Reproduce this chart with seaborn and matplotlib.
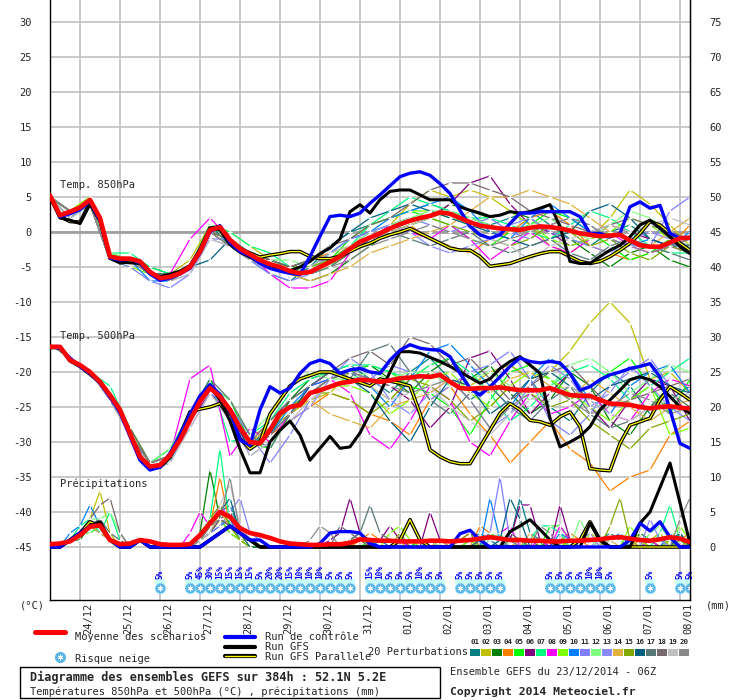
import numpy as np
import pandas as pd
import matplotlib
matplotlib.use("Agg")
import matplotlib.pyplot as plt
import matplotlib.transforms as mtransforms
from matplotlib.lines import Line2D
from matplotlib.patches import Rectangle
import seaborn as sns

# ------------------------------------------------------------------ data
hours = np.arange(0, 385, 6)      # 65 six-hourly steps (run 23/12 06Z)
hours12 = np.arange(0, 385, 12)   # perturbations read every 12 h
date_labels = ["24/12", "25/12", "26/12", "27/12", "28/12", "29/12", "30/12", "31/12",
               "01/01", "02/01", "03/01", "04/01", "05/01", "06/01", "07/01", "08/01"]
date_hours = [18, 42, 66, 90, 114, 138, 162, 186, 210, 234, 258, 282, 306, 330, 354, 378]
left_ticks = list(range(-45, 31, 5))
right_labels = [str(v) for v in range(0, 76, 5)]
PRECIP_BASE = -45

pert_colors = ["#008080", "#c0c000", "#008000", "#ff8000", "#00ff00", "#800080", "#00ff80",
               "#ff00ff", "#80ff00", "#0080ff", "#8080ff", "#80ff80", "#8a8aff", "#e0b040",
               "#80a800", "#006080", "#587878", "#786870", "#c0c0c0", "#888888"]
pert_names = ["%02d" % (i + 1) for i in range(20)]

# 850 hPa temperature (degC)
t850_mean = [5.2, 2.4, 2.9, 3.5, 4.6, 2.0, -3.5, -3.8, -3.8, -4.2,
             -5.7, -6.6, -6.4, -5.9, -5.0, -2.8, 0.3, 0.7, -1.1, -2.4,
             -3.2, -4.0, -4.6, -5.0, -5.6, -5.9, -5.7, -5.0, -4.3, -3.5,
             -2.4, -1.4, -0.8, -0.2, 0.5, 1.1, 1.6, 2.0, 2.3, 2.8,
             2.6, 2.0, 1.4, 0.9, 0.7, 0.5, 0.4, 0.3, 0.6, 0.8,
             0.7, 0.5, 0.2, -0.2, -0.4, -0.6, -0.5, -0.4, -1.2, -1.9,
             -2.1, -2.1, -1.5, -0.9, -0.8]
t850_ctrl = [5.2, 2.2, 2.6, 3.2, 4.4, 1.6, -3.7, -4.0, -3.9, -4.4,
             -6.0, -6.9, -6.6, -6.0, -5.2, -3.0, 0.0, 0.9, -1.5, -2.8,
             -3.4, -4.5, -5.2, -5.6, -5.9, -6.1, -3.5, -0.6, 2.2, 2.4,
             2.2, 2.7, 4.1, 5.3, 6.6, 7.9, 8.4, 8.6, 8.1, 6.9,
             5.5, 3.1, 0.8, -0.4, -0.9, -0.4, 1.2, 2.7, 2.7, 2.9,
             2.9, 2.9, 2.9, 2.2, -0.2, -0.2, -0.7, -0.2, 3.6, 4.3,
             3.4, 3.8, -0.2, -0.9, -0.8]
t850_gfs = [5.0, 2.0, 1.7, 1.2, 4.0, 1.5, -3.8, -4.3, -4.4, -4.5,
            -5.9, -6.4, -6.0, -5.6, -4.8, -2.6, 0.6, 0.3, -1.8, -2.9,
            -3.6, -4.4, -5.0, -5.4, -5.5, -5.0, -4.2, -3.1, -2.3, -1.0,
            2.9, 3.9, 2.7, 4.6, 5.8, 6.0, 6.0, 5.3, 4.6, 4.6,
            4.6, 3.6, 3.1, 2.7, 2.2, 2.4, 2.9, 2.7, 2.9, 3.4,
            3.9, 0.8, -4.2, -4.5, -4.5, -3.5, -2.6, -1.9, -0.7, 1.0,
            1.7, 0.5, -0.7, -2.1, -3.1]
t850_para = [5.0, 2.2, 1.5, 1.4, 4.2, 1.8, -3.6, -4.4, -4.2, -4.4,
             -5.8, -6.5, -6.3, -5.8, -4.9, -2.5, 0.5, 0.8, -1.3, -2.4,
             -3.0, -3.6, -3.3, -3.1, -2.8, -2.8, -3.5, -3.8, -3.8, -3.5,
             -2.8, -2.1, -1.6, -0.9, -0.4, 0.0, 0.5, -0.2, -0.9, -1.6,
             -2.3, -2.6, -2.6, -3.5, -4.9, -4.7, -4.5, -4.0, -3.5, -3.1,
             -2.8, -2.8, -3.5, -4.2, -4.5, -4.2, -3.5, -2.6, -1.6, -0.2,
             1.5, 1.0, -0.2, -1.6, -2.6]
t850_pert = [
    [5, 2, 4, -4, -4, -6, -7, -5, 1, -2, -4, -6, -7, -5, -2, 0, 1, 2, 3, 4, 3, 2, 1, 2, 3, 1, -1, -2, 0, 1, -1, -2, -3],
    [5, 3, 5, -3, -4, -6, -6, -4, 1, 0, -2, -4, -5, -6, -5, -3, -1, 1, 4, 6, 5, 6, 5, 3, 1, -2, -3, -1, 2, 6, 4, 1, -2],
    [5, 2, 4, -4, -4, -5, -6, -5, 0, -1, -4, -5, -6, -7, -6, -4, -2, 0, 1, 2, 4, 3, 2, 3, 2, 0, -1, -3, -5, -3, -2, -4, -5],
    [5, 3, 4, -4, -4, -6, -7, -5, 0, -2, -3, -4, -5, -4, -3, -2, -1, 0, 1, -1, -2, -3, -1, 0, 2, 3, 1, -2, -3, -4, -3, -2, 1],
    [5, 3, 4, -3, -4, -6, -6, -5, 1, -1, -3, -5, -6, -5, -4, -1, 1, 2, 3, 2, 1, -1, -2, 0, 1, 3, 2, 0, -2, -4, -3, -1, -2],
    [5, 3, 4, -4, -4, -6, -7, -5, 0, -1, -3, -5, -6, -5, -3, -1, 0, 1, 2, 2, 4, 7, 8, 4, 1, 0, -2, -1, 1, 0, -1, -2, -1],
    [5, 2, 4, -3, -3, -5, -6, -5, 1, 0, -2, -3, -5, -6, -5, -2, 1, 3, 5, 4, 3, 2, 2, 1, 0, -1, 1, 3, 2, 0, -2, -3, -3],
    [5, 3, 4, -4, -4, -6, -6, -1, 2, -1, -3, -6, -8, -8, -7, -3, -1, 1, 0, -1, 1, -1, -4, -2, 0, -2, -3, -1, 0, -2, -3, -2, -3],
    [5, 3, 5, -4, -5, -6, -7, -5, 0, -1, -3, -4, -5, -5, -3, -1, 1, 2, 3, 3, 2, 1, 2, 3, 1, -1, -2, -1, 0, 2, 1, -1, -2],
    [5, 3, 4, -4, -4, -7, -7, -5, 0, -1, -3, -5, -6, -5, -3, -1, 0, 2, 3, 4, 5, 3, 0, -1, 2, 4, 2, 0, -1, -2, -1, -2, 0],
    [5, 3, 4, -4, -5, -7, -8, -6, -1, -1, -4, -6, -7, -6, -4, -2, 0, 1, 2, 1, 0, 1, 2, 0, -1, 1, 2, 1, -1, -2, -2, 3, 5],
    [5, 3, 4, -3, -4, -6, -6, -5, 0, -1, -3, -4, -4, -5, -4, -2, 0, 1, 2, 3, 3, 2, 1, 0, 1, 2, 0, -1, 1, 3, 2, 0, -3],
    [5, 2, 4, -4, -4, -6, -7, -6, -1, -2, -4, -5, -6, -6, -3, -1, 0, 1, 0, -2, -3, -2, -1, 1, 2, 0, -1, -2, -3, -1, 0, -1, -2],
    [5, 3, 4, -4, -4, -6, -6, -5, 0, -1, -3, -5, -6, -7, -6, -5, -3, -2, -1, 0, 1, 3, 5, 5, 6, 5, 4, 2, 0, -1, -2, 0, 2],
    [5, 3, 4, -4, -4, -6, -7, -5, 0, -1, -3, -4, -5, -5, -4, -2, -1, 0, 1, 2, 1, 0, -1, -2, -1, 1, 0, -2, -1, -3, -4, -2, -3],
    [5, 3, 4, -4, -4, -6, -6, -5, -4, -1, -3, -4, -5, -4, -2, 0, 2, 3, 4, 3, 2, 1, 0, -1, -2, -1, 0, 3, 4, 2, -1, -2, -2],
    [5, 2, 4, -4, -4, -6, -6, -5, 0, -2, -4, -5, -6, -6, -5, -3, -1, 0, -1, -2, -1, 0, -2, -3, -2, -1, -3, -4, -2, -1, -2, -3, -4],
    [5, 3, 4, -4, -4, -6, -7, -5, 0, -1, -3, -4, -5, -4, -2, -1, 1, 2, 4, 6, 7, 7, 6, 5, 3, 2, 1, 0, 1, 2, 1, 0, -1],
    [5, 2, 4, -4, -4, -6, -7, -6, -1, -2, -4, -5, -6, -5, -3, -2, -1, 0, 1, 2, 3, 1, -1, -2, -4, -2, -1, 0, 1, 0, 1, 2, 1],
    [5, 3, 4, -4, -4, -6, -7, -5, 0, -2, -3, -5, -6, -6, -5, -4, -2, -1, 0, 1, 0, -1, -2, -1, 0, 1, 2, 1, -1, -2, -3, -2, -1],
]

# 500 hPa temperature (degC)
t500_mean = [-16.4, -16.4, -18.3, -19.0, -20.0, -21.4, -23.3, -25.4, -28.8, -32.1,
             -33.5, -33.3, -31.9, -29.7, -26.9, -24.2, -22.3, -23.5, -25.4, -28.0,
             -30.0, -30.2, -28.3, -25.9, -25.0, -24.7, -23.0, -22.6, -22.1, -21.6,
             -21.4, -21.1, -21.2, -21.4, -21.2, -20.9, -20.8, -20.6, -20.7, -20.4,
             -21.4, -22.3, -22.4, -22.3, -22.3, -22.2, -22.4, -22.6, -22.6, -22.6,
             -22.3, -22.8, -23.3, -23.4, -23.4, -24.0, -24.5, -24.6, -24.7, -25.0,
             -25.2, -25.0, -24.9, -25.1, -25.2]
t500_ctrl = [-16.4, -16.6, -18.0, -19.2, -20.2, -21.6, -23.6, -25.8, -29.2, -32.6,
             -34.0, -33.6, -31.6, -29.0, -26.0, -23.4, -21.8, -23.2, -25.6, -29.7,
             -30.5, -25.4, -22.1, -23.0, -22.3, -20.2, -18.8, -18.3, -18.8, -20.2,
             -19.7, -19.5, -20.0, -20.2, -18.3, -16.9, -16.1, -16.6, -16.8, -16.9,
             -17.8, -20.2, -22.3, -23.3, -22.1, -20.7, -19.2, -18.0, -18.5, -18.7,
             -18.5, -18.7, -20.2, -22.6, -22.1, -21.1, -20.4, -20.0, -19.5, -19.2,
             -18.8, -20.7, -25.4, -30.2, -30.9]
t500_gfs = [-16.3, -16.5, -18.2, -19.1, -20.1, -21.5, -23.4, -25.6, -29.0, -32.4,
            -33.8, -33.5, -31.8, -29.5, -26.7, -24.0, -22.0, -24.0, -27.0, -31.0,
            -34.4, -34.4, -30.0, -28.3, -27.0, -29.0, -32.6, -30.9, -29.2, -30.9,
            -30.7, -28.7, -25.9, -23.0, -20.0, -17.1, -17.1, -17.3, -17.9, -18.5,
            -19.2, -20.0, -20.8, -21.6, -21.0, -19.5, -18.5, -17.8, -19.0, -20.2,
            -26.6, -30.7, -30.0, -29.2, -27.8, -25.4, -24.0, -22.6, -21.1, -20.7,
            -21.1, -22.1, -23.5, -25.0, -25.9]
t500_para = [-16.5, -16.5, -18.4, -19.2, -20.3, -21.5, -23.5, -25.5, -28.9, -32.3,
             -33.7, -33.6, -32.2, -29.0, -25.7, -25.3, -25.0, -24.5, -26.5, -29.5,
             -31.0, -30.0, -26.0, -24.0, -22.0, -21.0, -20.5, -20.0, -20.0, -20.5,
             -21.0, -21.5, -22.0, -21.0, -21.3, -21.6, -22.0, -25.9, -31.1, -32.1,
             -32.8, -33.1, -33.1, -30.7, -28.3, -25.9, -24.5, -25.4, -26.9, -27.1,
             -27.6, -26.4, -25.7, -27.8, -33.8, -34.0, -34.1, -30.2, -27.6, -27.1,
             -26.6, -24.0, -22.1, -23.0, -24.0]
t500_pert = [
    [-16, -18, -20, -23, -28, -33, -32, -26, -22, -26, -31, -27, -24, -22, -20, -19, -21, -23, -20, -18, -21, -24, -22, -19, -21, -25, -27, -23, -20, -22, -26, -24, -22],
    [-16, -18, -20, -24, -29, -34, -32, -27, -22, -24, -29, -28, -26, -24, -23, -20, -22, -24, -21, -19, -18, -22, -20, -19, -21, -20, -17, -13, -10, -13, -21, -20, -23],
    [-16, -18, -20, -23, -28, -33, -31, -26, -21, -26, -31, -29, -24, -21, -20, -20, -19, -21, -23, -20, -18, -21, -19, -23, -26, -24, -20, -22, -27, -29, -25, -22, -24],
    [-16, -18, -20, -23, -29, -33, -32, -27, -22, -26, -30, -29, -27, -25, -23, -24, -26, -27, -29, -24, -22, -26, -29, -33, -30, -27, -31, -33, -37, -35, -34, -29, -27],
    [-16, -18, -20, -23, -28, -33, -32, -27, -22, -24, -30, -31, -26, -23, -21, -20, -19, -20, -22, -23, -25, -29, -24, -20, -19, -21, -24, -22, -20, -18, -22, -26, -21],
    [-16, -18, -20, -23, -29, -33, -32, -27, -23, -26, -31, -29, -26, -23, -21, -20, -21, -22, -24, -28, -25, -18, -17, -21, -26, -23, -20, -25, -28, -24, -21, -22, -27],
    [-16, -18, -20, -22, -28, -33, -31, -26, -21, -30, -29, -27, -23, -21, -20, -19, -19, -20, -21, -19, -18, -20, -23, -27, -25, -22, -20, -19, -21, -24, -22, -20, -18],
    [-16, -18, -20, -23, -29, -34, -32, -21, -19, -32, -28, -30, -26, -22, -21, -23, -29, -31, -27, -22, -24, -30, -32, -27, -23, -26, -25, -23, -26, -27, -23, -21, -22],
    [-16, -18, -20, -23, -28, -33, -32, -27, -22, -25, -30, -28, -25, -23, -22, -22, -23, -26, -24, -21, -20, -23, -25, -22, -20, -21, -23, -25, -27, -24, -22, -29, -28],
    [-16, -18, -20, -23, -29, -34, -33, -27, -22, -25, -30, -29, -25, -22, -21, -20, -22, -25, -21, -17, -16, -19, -22, -25, -21, -18, -20, -24, -26, -22, -20, -19, -23],
    [-16, -18, -20, -24, -29, -33, -32, -28, -23, -25, -29, -33, -29, -24, -22, -21, -21, -19, -20, -24, -22, -20, -19, -17, -21, -27, -29, -26, -22, -20, -18, -22, -24],
    [-16, -18, -20, -23, -28, -33, -31, -26, -22, -24, -29, -26, -22, -20, -21, -21, -20, -21, -20, -20, -22, -21, -20, -22, -24, -22, -19, -18, -20, -23, -21, -19, -20],
    [-16, -18, -20, -23, -29, -34, -32, -27, -22, -26, -32, -30, -27, -25, -21, -18, -20, -24, -26, -23, -21, -24, -28, -26, -22, -19, -21, -25, -23, -19, -22, -25, -27],
    [-16, -18, -20, -23, -29, -33, -32, -27, -22, -25, -30, -28, -25, -24, -26, -27, -28, -25, -24, -23, -21, -22, -23, -21, -20, -22, -24, -21, -23, -25, -27, -25, -24],
    [-16, -18, -20, -23, -28, -33, -32, -27, -22, -25, -31, -28, -25, -23, -23, -24, -26, -24, -21, -22, -24, -27, -25, -22, -23, -25, -24, -27, -29, -31, -28, -27, -26],
    [-16, -18, -20, -23, -29, -33, -32, -27, -22, -26, -31, -29, -26, -22, -20, -21, -23, -27, -30, -25, -21, -22, -26, -24, -21, -20, -22, -24, -22, -21, -20, -22, -23],
    [-16, -18, -20, -23, -29, -34, -32, -26, -21, -24, -29, -31, -26, -23, -22, -21, -17, -16, -20, -24, -26, -23, -22, -25, -27, -24, -22, -26, -28, -27, -25, -23, -25],
    [-16, -18, -20, -23, -28, -33, -32, -27, -22, -25, -30, -27, -24, -22, -20, -18, -17, -19, -15, -16, -19, -18, -21, -24, -22, -20, -19, -22, -25, -24, -23, -22, -21],
    [-16, -18, -20, -24, -29, -34, -33, -28, -23, -27, -32, -30, -27, -24, -22, -21, -22, -24, -23, -22, -25, -27, -29, -26, -24, -23, -22, -24, -26, -27, -25, -24, -23],
    [-16, -18, -20, -23, -29, -33, -32, -27, -22, -25, -31, -29, -26, -23, -21, -20, -21, -22, -23, -22, -21, -24, -28, -25, -23, -22, -24, -26, -25, -23, -24, -26, -25],
]

# precipitation (mm per 6 h)
pr_mean = [0.4, 0.5, 0.8, 1.7, 2.9, 3.1, 1.0, 0.4, 0.5, 1.0,
           0.8, 0.4, 0.3, 0.3, 0.4, 1.7, 3.4, 5.0, 4.3, 2.7,
           2.0, 1.7, 1.3, 0.8, 0.5, 0.4, 0.3, 0.3, 0.4, 0.4,
           0.6, 1.1, 1.0, 0.9, 0.9, 0.8, 0.8, 0.8, 0.9, 0.9,
           0.8, 0.9, 1.0, 1.2, 1.4, 1.2, 1.0, 1.0, 0.9, 0.9,
           0.8, 0.8, 0.9, 0.9, 1.0, 1.1, 1.3, 1.4, 1.2, 1.0,
           0.9, 1.1, 1.4, 1.2, 0.7]
pr_ctrl = [0, 0, 1, 2, 3, 3, 1, 0, 0, 1,
           0, 0, 0, 0, 0, 0, 1, 2, 3, 2,
           1, 1, 0, 0, 0, 0, 0, 0.5, 2, 2.2,
           2.2, 2, 0.5, 0, 0, 0, 0, 0, 0, 0,
           0, 1.9, 2.4, 1, 0, 0, 0, 0, 0, 0,
           0, 0, 0, 0, 0, 0, 0, 0, 1, 3.4,
           2.3, 3.6, 1.4, 0, 0]
pr_gfs = [0, 0, 1, 2, 3, 3.6, 1, 0, 0, 1,
          0, 0, 0, 0, 0, 0, 1, 2, 3, 2,
          1, 0, 0, 0, 0, 0, 0, 0, 0, 0,
          0, 0, 0, 0, 0, 0, 0, 0, 0, 0,
          0, 0, 0, 0, 0, 0, 2.2, 3, 3.9, 2.5,
          1, 0, 0, 0, 3.4, 1, 0, 0, 0, 3.4,
          5, 8.5, 12, 6.3, 0.5]
pr_para = [0, 0, 1, 2, 3.6, 3, 1, 0, 0, 1,
           0, 0, 0, 0, 0, 0, 1, 2, 3, 2,
           1, 0, 0, 0, 0, 0, 0, 0, 0, 0,
           0, 0, 0, 0, 0, 1, 3.9, 1, 0, 0,
           0, 0, 0, 0, 0, 0, 0, 0, 0, 0,
           0, 0, 0, 1, 3.6, 1, 0, 0, 0, 0,
           0, 0, 0, 0, 0]
pr_pert = [
    [0, 0, 1, 2, 3, 4, 1, 0, 0, 1, 1, 0, 0, 0, 0, 1, 3, 5, 6, 2, 1, 1, 0, 0, 0, 0, 0, 0, 0, 0, 1, 2, 1, 0, 0, 1, 0, 0, 1, 0, 0, 0, 1, 2, 1, 0, 1, 7, 2, 1, 0, 0, 1, 0, 0, 1, 2, 1, 0, 0, 1, 0, 1, 2, 0],
    [0, 0, 1, 2, 4, 8, 2, 0, 0, 1, 0, 0, 0, 0, 0, 1, 2, 4, 3, 1, 1, 0, 0, 0, 0, 0, 0, 0, 0, 0, 0, 1, 0, 0, 0, 0, 1, 0, 0, 0, 0, 1, 2, 1, 0, 0, 0, 1, 0, 0, 0, 1, 0, 0, 2, 1, 0, 0, 0, 0, 1, 2, 0, 0, 0],
    [0, 0, 1, 1, 3, 2, 1, 0, 0, 1, 1, 0, 0, 0, 0, 2, 11, 4, 2, 1, 1, 0, 0, 0, 0, 0, 0, 0, 0, 0, 0, 0, 0, 0, 0, 0, 0, 1, 0, 0, 0, 0, 0, 1, 0, 0, 0, 0, 1, 0, 1, 0, 0, 0, 0, 0, 0, 0, 0, 2, 1, 0, 0, 0, 0],
    [0, 0, 1, 2, 3, 3, 1, 0, 0, 1, 0, 0, 0, 0, 0, 1, 3, 10, 3, 1, 0, 0, 0, 0, 0, 0, 0, 0, 0, 0, 0, 1, 2, 1, 0, 0, 0, 0, 0, 0, 0, 0, 0, 3, 2, 1, 0, 0, 0, 0, 0, 1, 2, 1, 0, 0, 0, 0, 0, 1, 0, 0, 0, 1, 2],
    [0, 0, 1, 2, 2, 3, 1, 0, 0, 1, 0, 0, 0, 0, 0, 1, 2, 6, 3, 1, 0, 0, 0, 0, 0, 0, 0, 0, 0, 0, 0, 0, 1, 0, 0, 0, 0, 1, 0, 0, 0, 0, 0, 0, 2, 1, 0, 0, 0, 0, 3, 3, 1, 0, 0, 0, 0, 0, 0, 0, 1, 0, 0, 1, 0],
    [0, 0, 1, 2, 3, 4, 1, 0, 0, 1, 1, 0, 0, 0, 0, 1, 2, 4, 5, 2, 1, 0, 0, 0, 0, 0, 0, 0, 1, 2, 7, 2, 0, 1, 3, 1, 0, 0, 5, 1, 0, 0, 0, 1, 0, 0, 1, 6, 6, 1, 0, 6, 1, 0, 0, 0, 0, 0, 0, 0, 0, 0, 1, 0, 0],
    [0, 0, 1, 3, 4, 2, 5, 1, 0, 1, 0, 0, 0, 0, 0, 1, 4, 14, 3, 1, 1, 0, 0, 0, 0, 0, 0, 0, 0, 0, 0, 0, 0, 0, 0, 0, 0, 0, 0, 0, 0, 0, 1, 0, 0, 0, 1, 0, 1, 3, 3, 2, 0, 0, 0, 0, 0, 0, 0, 0, 0, 2, 6, 1, 0],
    [0, 0, 1, 2, 3, 3, 1, 0, 0, 1, 0, 0, 0, 0, 2, 5, 3, 6, 4, 2, 1, 0, 0, 0, 0, 0, 0, 0, 0, 0, 0, 0, 0, 0, 0, 1, 0, 0, 0, 0, 0, 1, 2, 0, 1, 2, 3, 0, 0, 1, 0, 3, 1, 0, 0, 0, 0, 0, 0, 0, 1, 0, 0, 0, 0],
    [0, 0, 1, 2, 3, 3, 1, 0, 0, 1, 1, 0, 0, 0, 0, 1, 3, 4, 2, 1, 0, 0, 0, 0, 0, 0, 0, 0, 0, 0, 0, 0, 0, 0, 2, 3, 1, 0, 0, 0, 0, 0, 1, 0, 0, 0, 0, 0, 0, 0, 0, 0, 1, 0, 0, 0, 0, 0, 3, 1, 0, 0, 1, 3, 1],
    [0, 0, 2, 3, 6, 3, 1, 0, 0, 1, 0, 0, 0, 0, 0, 1, 2, 3, 4, 1, 1, 0, 0, 0, 0, 0, 0, 0, 0, 0, 0, 0, 0, 1, 0, 0, 0, 0, 0, 0, 0, 0, 0, 0, 7, 1, 0, 0, 0, 0, 0, 2, 1, 0, 0, 0, 1, 2, 0, 0, 0, 0, 2, 0, 1],
    [0, 0, 1, 2, 3, 2, 1, 0, 0, 1, 0, 0, 0, 0, 0, 1, 2, 3, 5, 7, 2, 1, 0, 0, 0, 0, 0, 0, 0, 0, 0, 0, 0, 0, 0, 0, 0, 0, 0, 0, 0, 0, 0, 1, 2, 10, 1, 0, 0, 0, 0, 0, 0, 0, 0, 1, 0, 0, 0, 0, 0, 0, 0, 0, 1],
    [0, 0, 1, 2, 4, 4, 5, 2, 0, 1, 1, 0, 0, 0, 0, 2, 4, 5, 3, 1, 1, 0, 0, 0, 0, 0, 0, 0, 0, 0, 0, 0, 0, 0, 0, 0, 0, 0, 1, 0, 0, 0, 0, 0, 1, 2, 0, 0, 0, 0, 0, 0, 0, 4, 1, 0, 0, 0, 0, 0, 2, 3, 1, 0, 0],
    [0, 0, 1, 2, 3, 3, 1, 0, 0, 1, 0, 0, 0, 0, 0, 1, 3, 5, 4, 3, 1, 0, 0, 0, 0, 0, 0, 0, 0, 0, 0, 0, 0, 0, 0, 0, 0, 0, 0, 0, 0, 0, 0, 0, 0, 1, 0, 0, 0, 0, 0, 0, 0, 1, 2, 0, 0, 0, 0, 0, 4, 1, 0, 0, 0],
    [0, 0, 1, 2, 3, 2, 1, 0, 0, 1, 0, 0, 0, 0, 0, 1, 2, 5, 3, 1, 1, 0, 0, 0, 0, 0, 0, 0, 0, 0, 0, 0, 0, 0, 0, 0, 0, 0, 0, 1, 0, 0, 0, 0, 0, 0, 0, 0, 2, 0, 0, 0, 0, 0, 0, 0, 1, 0, 0, 0, 0, 0, 0, 0, 1],
    [0, 0, 1, 2, 3, 3, 1, 0, 0, 1, 0, 0, 0, 0, 0, 1, 4, 6, 3, 1, 0, 0, 0, 0, 0, 0, 0, 0, 0, 0, 0, 0, 0, 0, 0, 2, 0, 0, 0, 0, 0, 1, 2, 0, 0, 0, 0, 0, 0, 0, 0, 0, 0, 0, 0, 0, 3, 7, 1, 0, 0, 0, 0, 1, 0],
    [0, 0, 1, 2, 3, 3, 1, 0, 0, 1, 0, 0, 0, 0, 0, 1, 3, 5, 7, 2, 0, 0, 0, 0, 0, 0, 0, 0, 0, 0, 0, 0, 0, 0, 0, 0, 0, 0, 0, 0, 0, 0, 0, 1, 0, 1, 7, 4, 0, 0, 0, 0, 0, 0, 0, 0, 0, 0, 0, 0, 0, 0, 0, 2, 0],
    [0, 0, 1, 2, 3, 4, 2, 1, 0, 1, 0, 0, 0, 0, 0, 1, 3, 4, 3, 2, 1, 0, 0, 0, 0, 0, 0, 0, 0, 0, 1, 2, 6, 2, 1, 0, 0, 0, 0, 0, 0, 0, 0, 1, 0, 0, 2, 1, 0, 0, 0, 0, 0, 0, 0, 0, 0, 0, 0, 0, 0, 0, 0, 0, 0],
    [0, 0, 1, 2, 4, 6, 7, 2, 0, 1, 0, 0, 0, 0, 0, 1, 2, 4, 3, 2, 1, 0, 0, 0, 0, 0, 0, 0, 0, 3, 2, 1, 0, 0, 0, 0, 0, 0, 0, 0, 0, 0, 0, 0, 0, 0, 0, 0, 0, 0, 0, 0, 0, 0, 0, 0, 0, 0, 0, 0, 0, 0, 0, 0, 0],
    [0, 0, 1, 2, 3, 3, 1, 0, 0, 1, 0, 0, 0, 0, 0, 1, 2, 6, 9, 3, 1, 0, 0, 0, 0, 0, 0, 0, 0, 0, 0, 0, 0, 0, 0, 0, 0, 0, 0, 0, 0, 0, 0, 0, 0, 0, 0, 0, 0, 0, 0, 0, 0, 0, 0, 1, 0, 0, 0, 0, 0, 0, 0, 0, 0],
    [0, 0, 1, 2, 3, 3, 1, 0, 0, 1, 0, 0, 0, 0, 0, 1, 3, 4, 10, 2, 1, 0, 0, 0, 0, 0, 1, 3, 2, 0, 0, 0, 0, 0, 0, 0, 0, 0, 0, 0, 0, 0, 0, 0, 0, 0, 1, 0, 0, 3, 2, 0, 0, 0, 0, 0, 0, 0, 0, 0, 0, 0, 0, 4, 7],
]

# snow risk (%)
snow_hours = [66, 84, 90, 96, 102, 108, 114, 120, 126, 132, 138, 144, 150, 156, 162, 168, 174, 180,
              192, 198, 204, 210, 216, 222, 228, 234,
              246, 252, 258, 264, 270,
              300, 306, 312, 318, 324, 330, 336,
              360, 378, 384]
snow_pct = [5, 5, 45, 30, 15, 15, 15, 15, 5, 20, 20, 15, 10, 10, 10, 5, 5, 5,
            15, 10, 5, 5, 5, 10, 5, 5,
            5, 5, 5, 5, 5,
            5, 5, 5, 5, 10, 10, 5,
            5, 5, 5]

# ------------------------------------------------------------------ style
sns.set_style("white")
plt.rcParams["font.family"] = ["DejaVu Sans Mono", "DejaVu Sans"]
W, H = 740, 700
fig = plt.figure(figsize=(W / 100, H / 100), dpi=100)
ax = fig.add_axes([50 / W, 100 / H, 640 / W, 600 / H])
ax.set_xlim(0, 384)
ax.set_ylim(-52.57, 33.14)


def fx(px):
    return px / W


def fy(py):
    return 1 - py / H


# grid
GRID = "#c0c0c0"
ax.set_yticks(left_ticks)
ax.set_yticklabels([str(v) for v in left_ticks], fontsize=7.5)
ax.set_xticks(date_hours)
ax.set_xticklabels([])
ax.tick_params(axis="both", length=0)
ax.tick_params(axis="y", pad=13)
ax.grid(True, color=GRID, lw=1.2, zorder=0)
ax.set_axisbelow(True)
ax.axhline(0, color="#a0a0a0", lw=2.0, zorder=1)
for s in ["left", "bottom", "right"]:
    ax.spines[s].set_color("black")
    ax.spines[s].set_linewidth(1.0)
ax.spines["top"].set_visible(False)

ax2 = ax.twinx()
ax2.set_ylim(ax.get_ylim())
ax2.set_yticks(left_ticks)
ax2.set_yticklabels(right_labels, fontsize=7.5)
ax2.tick_params(axis="y", length=0, pad=14)
for s in ax2.spines.values():
    s.set_visible(False)
ax2.spines["right"].set_visible(True)
ax2.spines["right"].set_color("black")
ax2.grid(False)


# perturbations
def long_df(rows, hrs, offset=0.0):
    recs = []
    for name, row in zip(pert_names, rows):
        for h, v in zip(hrs, row):
            recs.append((name, h, v + offset))
    return pd.DataFrame(recs, columns=["member", "hour", "value"])


palette = dict(zip(pert_names, pert_colors))
for rows, hrs, off in [(t850_pert, hours12, 0.0), (t500_pert, hours12, 0.0),
                       (pr_pert, hours, PRECIP_BASE)]:
    sns.lineplot(data=long_df(rows, hrs, off), x="hour", y="value", hue="member",
                 palette=palette, estimator=None, errorbar=None, legend=False, sort=False,
                 lw=0.9, marker="+", markersize=3.5, markeredgewidth=0.8, ax=ax, zorder=2)

# main runs
for arr, off in [(t850_para, 0.0), (t500_para, 0.0), (pr_para, PRECIP_BASE)]:
    y = np.array(arr) + off
    sns.lineplot(x=hours, y=y, color="black", lw=2.6, ax=ax, zorder=3, errorbar=None)
    sns.lineplot(x=hours, y=y, color="#ffff00", lw=0.9, ax=ax, zorder=3.1, errorbar=None)
for arr, off in [(t850_gfs, 0.0), (t500_gfs, 0.0), (pr_gfs, PRECIP_BASE)]:
    sns.lineplot(x=hours, y=np.array(arr) + off, color="black", lw=2.2, ax=ax, zorder=4,
                 errorbar=None)
for arr, off in [(t850_ctrl, 0.0), (t500_ctrl, 0.0), (pr_ctrl, PRECIP_BASE)]:
    sns.lineplot(x=hours, y=np.array(arr) + off, color="#0000ff", lw=2.4, ax=ax, zorder=5,
                 errorbar=None)
for arr, off in [(t850_mean, 0.0), (t500_mean, 0.0), (pr_mean, PRECIP_BASE)]:
    sns.lineplot(x=hours, y=np.array(arr) + off, color="#ff0000", lw=3.3, ax=ax, zorder=6,
                 errorbar=None)
ax.set_xlabel("")
ax.set_ylabel("")
ax2.set_ylabel("")

# section labels
ax.text(6, 6.7, "Temp. 850hPa", fontsize=7.5, va="center", ha="left", zorder=7)
ax.text(6, -14.9, "Temp. 500hPa", fontsize=7.5, va="center", ha="left", zorder=7)
ax.text(6, -36.0, "Précipitations", fontsize=7.5, va="center", ha="left", zorder=7)

# snow risk row
SNOW_Y = -50.86
runs = []
for h in snow_hours:
    if runs and h - runs[-1][1] == 6:
        runs[-1][1] = h
    else:
        runs.append([h, h])
for a, b in runs:
    ax.fill_between([a - 3, b + 3], -49.6, -50.3, color="#ccffff", lw=0, zorder=7)
sns.scatterplot(x=snow_hours, y=[SNOW_Y] * len(snow_hours), s=55, color="#5ab4e6",
                edgecolor="#88d8ff", linewidth=0.5, ax=ax, zorder=8, legend=False)
ax.scatter(snow_hours, [SNOW_Y] * len(snow_hours), s=14, marker=(6, 2, 0), color="white",
           lw=0.6, zorder=9)
for h, p in zip(snow_hours, snow_pct):
    ax.text(h, -49.55, "%d%%" % p, rotation=90, ha="center", va="bottom", fontsize=5.5,
            color="#0000ff", fontweight="bold", zorder=9)
ax.set_xlabel("")
ax.set_ylabel("")

# date labels
trans = mtransforms.blended_transform_factory(ax.transData, ax.transAxes)
trans = trans + mtransforms.ScaledTranslation(8 / 100, -3 / 100, fig.dpi_scale_trans)
for h, lab in zip(date_hours, date_labels):
    ax.text(h, 0, lab, rotation=90, ha="center", va="top", fontsize=7.5, transform=trans)

fig.text(fx(20), fy(606), "(°C)", fontsize=7.5, va="center", ha="left")
fig.text(fx(706), fy(606), "(mm)", fontsize=7.5, va="center", ha="left")

# legend
fig.add_artist(Line2D([fx(35), fx(65)], [fy(632), fy(632)], color="#ff0000", lw=3.6))
fig.text(fx(75), fy(637), "Moyenne des scénarios", fontsize=7.5, va="center")
fig.add_artist(Line2D([fx(60)], [fy(657)], marker="o", ms=7, color="#5ab4e6", lw=0))
fig.add_artist(Line2D([fx(60)], [fy(657)], marker=(6, 2, 0), ms=4, color="white",
                      markeredgewidth=0.6, lw=0))
fig.text(fx(75), fy(659), "Risque neige", fontsize=7.5, va="center")
fig.add_artist(Line2D([fx(225), fx(255)], [fy(637), fy(637)], color="#0000ff", lw=3))
fig.text(fx(265), fy(637), "Run de contrôle", fontsize=7.5, va="center")
fig.add_artist(Line2D([fx(225), fx(255)], [fy(647), fy(647)], color="black", lw=3))
fig.text(fx(265), fy(647), "Run GFS", fontsize=7.5, va="center")
fig.add_artist(Line2D([fx(225), fx(255)], [fy(656), fy(656)], color="black", lw=3))
fig.add_artist(Line2D([fx(225), fx(255)], [fy(656), fy(656)], color="#ffff00", lw=1))
fig.text(fx(265), fy(657), "Run GFS Parallele", fontsize=7.5, va="center")
fig.text(fx(368), fy(652), "20 Perturbations", fontsize=7.5, va="center")
for i, (name, col) in enumerate(zip(pert_names, pert_colors)):
    x0 = 470 + 11 * i
    fig.add_artist(Rectangle((fx(x0), fy(656)), 10 / W, 7 / H, color=col, lw=0))
    fig.text(fx(x0 + 5), fy(642), name, fontsize=5.3, ha="center", va="center",
             fontweight="bold")

fig.add_artist(Rectangle((fx(20), fy(698)), 420 / W, 31 / H, fill=False, ec="black", lw=1))
fig.text(fx(30), fy(677), "Diagramme des ensembles GEFS sur 384h : 52.1N 5.2E",
         fontsize=8.6, fontweight="bold", va="center")
fig.text(fx(30), fy(692), "Températures 850hPa et 500hPa (°C) , précipitations (mm)",
         fontsize=7.5, va="center")
fig.text(fx(450), fy(672), "Ensemble GEFS du 23/12/2014 - 06Z", fontsize=7.5, va="center")
fig.text(fx(450), fy(692), "Copyright 2014 Meteociel.fr", fontsize=8.2,
         fontweight="bold", va="center")

fig.savefig("out.png", dpi=100)
